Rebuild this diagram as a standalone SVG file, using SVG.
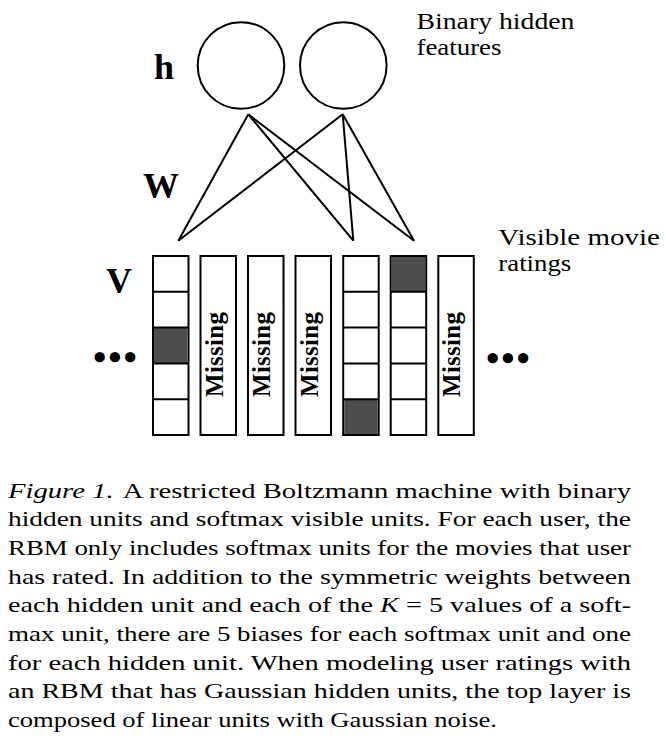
<svg xmlns="http://www.w3.org/2000/svg" width="666" height="742" viewBox="0 0 666 742">
<style>
.lbl{font-family:"Liberation Serif","Times New Roman",serif;font-weight:bold;font-size:36px;fill:#000}
.note{font-family:"Liberation Serif","Times New Roman",serif;font-size:24px;fill:#000}
.dots{font-family:"Liberation Serif","Times New Roman",serif;font-weight:bold;font-size:38px;letter-spacing:2px;fill:#000}
.miss{font-family:"Liberation Serif","Times New Roman",serif;font-weight:bold;font-size:25px;fill:#000}
.cap{font-family:"Liberation Serif","Times New Roman",serif;font-size:22px;fill:#000}
.unit{fill:#fff;stroke:#000;stroke-width:2}
.col{fill:#fff;stroke:#000;stroke-width:2}
.on{fill:#4d4d4d}
.div{stroke:#000;stroke-width:2}
.edge{stroke:#000;stroke-width:2;fill:none}
</style>

<g id="hidden-units">
  <circle id="h1" class="unit" cx="241" cy="65.5" r="43.3"/>
  <circle id="h2" class="unit" cx="343.3" cy="65.5" r="43.3"/>
</g>

<g id="connectors">
  <line class="edge" x1="248.3" y1="114.3" x2="178.3" y2="240.7"/>
  <line class="edge" x1="248.3" y1="114.3" x2="353.3" y2="240.7"/>
  <line class="edge" x1="248.3" y1="114.3" x2="414" y2="240.7"/>
  <line class="edge" x1="342.7" y1="114.3" x2="178.3" y2="240.7"/>
  <line class="edge" x1="342.7" y1="114.3" x2="353.3" y2="240.7"/>
  <line class="edge" x1="342.7" y1="114.3" x2="414" y2="240.7"/>
</g>

<g id="labels">
  <text class="lbl" x="154" y="79">h</text>
  <text class="lbl" x="143" y="198">W</text>
  <text class="lbl" x="106" y="293">V</text>
  <text class="note" x="416.5" y="28.5" textLength="158" lengthAdjust="spacingAndGlyphs">Binary hidden</text>
  <text class="note" x="416.5" y="55" textLength="85" lengthAdjust="spacingAndGlyphs">features</text>
  <text class="note" x="498.3" y="244.5" textLength="161.5" lengthAdjust="spacingAndGlyphs">Visible movie</text>
  <text class="note" x="498.3" y="271" textLength="73" lengthAdjust="spacingAndGlyphs">ratings</text>
  <text class="dots" x="93" y="370">•••</text>
  <text class="dots" x="486" y="371">•••</text>
</g>

<g id="v1">
  <rect class="col" x="153" y="256" width="35.5" height="179"/>
  <rect class="on" x="154" y="328" width="33.5" height="36"/>
  <line class="div" x1="153" y1="291.8" x2="188.5" y2="291.8"/>
  <line class="div" x1="153" y1="327.6" x2="188.5" y2="327.6"/>
  <line class="div" x1="153" y1="363.4" x2="188.5" y2="363.4"/>
  <line class="div" x1="153" y1="399.2" x2="188.5" y2="399.2"/>
</g>
<g id="v2">
  <rect class="col" x="200.5" y="256" width="35.5" height="179"/>
  <text class="miss" text-anchor="middle" textLength="85" transform="translate(222.5,354.5) rotate(-90)">Missing</text>
</g>
<g id="v3">
  <rect class="col" x="248" y="256" width="35.5" height="179"/>
  <text class="miss" text-anchor="middle" textLength="85" transform="translate(270,354.5) rotate(-90)">Missing</text>
</g>
<g id="v4">
  <rect class="col" x="295.5" y="256" width="35.5" height="179"/>
  <text class="miss" text-anchor="middle" textLength="85" transform="translate(317.5,354.5) rotate(-90)">Missing</text>
</g>
<g id="v5">
  <rect class="col" x="343.2" y="256" width="35.5" height="179"/>
  <rect class="on" x="344.2" y="399.2" width="33.5" height="34.8"/>
  <line class="div" x1="343.2" y1="291.8" x2="378.7" y2="291.8"/>
  <line class="div" x1="343.2" y1="327.6" x2="378.7" y2="327.6"/>
  <line class="div" x1="343.2" y1="363.4" x2="378.7" y2="363.4"/>
  <line class="div" x1="343.2" y1="399.2" x2="378.7" y2="399.2"/>
</g>
<g id="v6">
  <rect class="col" x="390.7" y="256" width="35.5" height="179"/>
  <rect class="on" x="391.7" y="257" width="33.5" height="34.8"/>
  <line class="div" x1="390.7" y1="291.8" x2="426.2" y2="291.8"/>
  <line class="div" x1="390.7" y1="327.6" x2="426.2" y2="327.6"/>
  <line class="div" x1="390.7" y1="363.4" x2="426.2" y2="363.4"/>
  <line class="div" x1="390.7" y1="399.2" x2="426.2" y2="399.2"/>
</g>
<g id="v7">
  <rect class="col" x="438.3" y="256" width="35.5" height="179"/>
  <text class="miss" text-anchor="middle" textLength="85" transform="translate(460.3,354.5) rotate(-90)">Missing</text>
</g>

<g id="caption" class="cap">
  <text x="8" y="497.7" textLength="623" lengthAdjust="spacingAndGlyphs"><tspan font-style="italic">Figure 1.</tspan><tspan dx="7">A restricted Boltzmann machine with binary</tspan></text>
  <text x="8" y="526.4" textLength="623" lengthAdjust="spacingAndGlyphs">hidden units and softmax visible units. For each user, the</text>
  <text x="8" y="555" textLength="623" lengthAdjust="spacingAndGlyphs">RBM only includes softmax units for the movies that user</text>
  <text x="8" y="583.7" textLength="623" lengthAdjust="spacingAndGlyphs">has rated. In addition to the symmetric weights between</text>
  <text x="8" y="612.3" textLength="623" lengthAdjust="spacingAndGlyphs">each hidden unit and each of the <tspan font-style="italic">K</tspan> = 5 values of a soft-</text>
  <text x="8" y="641" textLength="623" lengthAdjust="spacingAndGlyphs">max unit, there are 5 biases for each softmax unit and one</text>
  <text x="8" y="669.7" textLength="623" lengthAdjust="spacingAndGlyphs">for each hidden unit. When modeling user ratings with</text>
  <text x="8" y="698.3" textLength="623" lengthAdjust="spacingAndGlyphs">an RBM that has Gaussian hidden units, the top layer is</text>
  <text x="8" y="727" textLength="489" lengthAdjust="spacingAndGlyphs">composed of linear units with Gaussian noise.</text>
</g>
</svg>
